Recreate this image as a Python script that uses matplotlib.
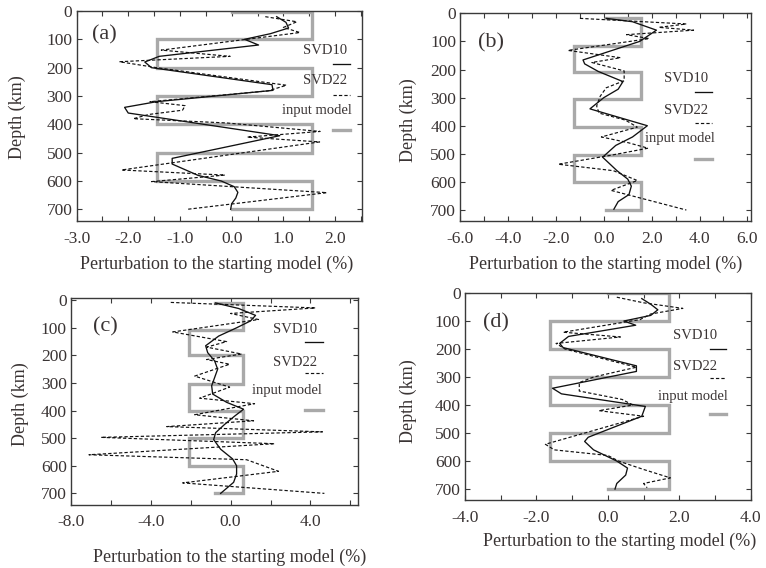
import matplotlib
matplotlib.use("Agg")
import matplotlib.pyplot as plt
from matplotlib.ticker import MultipleLocator, FormatStrFormatter

plt.rcParams['font.family'] = ['Liberation Serif', 'DejaVu Serif']
plt.rcParams['axes.unicode_minus'] = False

TEXT = '#3a3434'
SPINE = '#3a3a3a'
GRAY = '#a9a9a9'

# ---------------- data ----------------
panel_labels = ['(a)', '(b)', '(c)', '(d)']
legend_names = ['SVD10', 'SVD22', 'input model']
xlabel_text = 'Perturbation to the starting model (%)'
ylabel_text = 'Depth (km)'
depth_ticks = [0, 100, 200, 300, 400, 500, 600, 700]

# panel (a)
a_svd10_depth = [20, 40, 60, 80, 100, 120, 160, 180, 200, 260, 280, 320, 340, 360, 440,
                 520, 540, 580, 600, 620, 640, 660, 680, 700]
a_svd10_value = [0.87, 1.05, 1.10, 0.75, 0.25, 0.52, -1.40, -1.68, -1.55, 0.78, 0.80, -1.45,
                 -2.07, -2.0, 0.93, -1.15, -1.15, -0.65, -0.2, 0.05, 0.12, 0.08, 0.0, -0.02]
a_svd22_depth = [20, 38, 58, 76, 138, 160, 179, 200, 262, 282, 320, 334, 350, 365, 380, 395,
                 425, 445, 462, 561, 579, 602, 641, 700]
a_svd22_value = [0.65, 1.26, 1.0, 1.32, -1.36, -0.03, -2.17, -1.45, 1.06, 0.7, -1.58, -0.9,
                 -0.95, -1.6, -1.9, -0.1, 1.71, 0.3, 1.7, -2.13, -0.13, -1.55, 1.84, -0.87]
a_input_bounds = [3, 100, 200, 300, 400, 500, 600, 700]
a_input_high, a_input_low, a_input_start = 1.55, -1.45, 0.0

# panel (b)
b_svd10_depth = [18, 30, 60, 100, 166, 180, 207, 243, 270, 300, 340, 400, 440, 470, 512,
                 560, 590, 615, 645, 670, 697]
b_svd10_value = [0.1, 1.2, 2.2, 1.5, -0.87, -0.8, -0.23, 0.8, 0.6, 0.0, -0.58, 1.82, 1.2,
                 0.5, -0.05, 0.55, 1.0, 1.15, 1.05, 0.6, 0.42]
b_svd22_depth = [18, 38, 50, 60, 76, 90, 132, 158, 175, 205, 240, 265, 295, 330, 355, 380,
                 405, 440, 460, 480, 505, 537, 560, 595, 630, 700]
b_svd22_value = [-1.0, 3.45, 2.3, 3.75, 0.95, 1.9, -1.5, 0.7, -0.5, 0.85, 0.85, 0.1, -0.15,
                 -0.3, -0.2, 0.9, 1.4, -0.1, 1.0, 1.85, 0.3, -1.9, 0.4, 1.4, 0.3, 3.45]
b_input_bounds = [17, 115, 210, 305, 405, 505, 600, 700]
b_input_high, b_input_low, b_input_start = 1.55, -1.25, 0.1

# panel (c)
c_svd10_depth = [10, 30, 55, 75, 100, 130, 165, 190, 220, 250, 280, 310, 340, 370, 395,
                 420, 450, 480, 505, 540, 575, 600, 630, 660, 700]
c_svd10_value = [-0.75, 0.4, 1.25, 1.0, 0.3, -0.6, -1.25, -1.15, -0.8, -0.65, -0.8, -0.95,
                 -0.9, -0.2, 0.65, 0.2, -0.3, -0.75, -0.85, -0.5, 0.1, 0.3, 0.3, 0.15, -0.5]
c_svd22_depth = [8, 28, 48, 70, 115, 150, 170, 195, 215, 232, 275, 315, 355, 375, 415, 437,
                 458, 477, 497, 520, 560, 578, 620, 662, 700]
c_svd22_value = [-3.0, 4.25, 0.0, 1.4, -2.9, -0.2, -1.2, 0.55, -1.2, -0.05, -1.8, -0.05,
                 -1.55, 1.2, -1.8, 1.15, -3.2, 4.6, -6.5, 2.2, -7.1, 0.8, 2.4, -2.4, 4.7]
c_input_bounds = [10, 107, 200, 305, 400, 500, 600, 700]
c_input_high, c_input_low, c_input_start = 0.62, -2.1, -0.8

# panel (d)
d_svd10_depth = [20, 40, 60, 80, 100, 115, 155, 180, 195, 260, 280, 340, 360, 405, 440,
                 515, 530, 560, 600, 625, 650, 680, 700]
d_svd10_value = [0.95, 1.2, 1.4, 1.2, 0.45, 0.78, -1.1, -1.35, -1.25, 0.8, 0.8, -1.55,
                 -1.3, 1.05, 0.95, -0.55, -0.65, -0.4, 0.25, 0.55, 0.5, 0.25, 0.2]
d_svd22_depth = [15, 35, 55, 75, 95, 140, 157, 180, 200, 265, 300, 320, 350, 380, 400, 420,
                 440, 480, 540, 560, 580, 600, 630, 660, 680, 695]
d_svd22_value = [0.25, 1.0, 2.1, 1.2, 0.9, -1.25, 0.35, -1.45, -1.2, 0.8, -0.4, -0.8, -0.8,
                 0.4, 0.7, -0.25, 1.0, -0.1, -1.75, -1.5, 0.0, 0.3, 1.0, 1.75, 1.0, 1.1]
d_input_bounds = [0, 100, 200, 300, 400, 500, 600, 700]
d_input_high, d_input_low, d_input_start = 1.7, -1.62, 0.0

# x-axis settings per panel: (xmin, xmax, label step, minor step)
a_xaxis = (-3.0, 2.52, 1.0, 0.5)
b_xaxis = (-6.0, 6.14, 2.0, 1.0)
c_xaxis = (-8.0, 6.4, 4.0, 2.0)
d_xaxis = (-4.0, 4.0, 2.0, 1.0)
a_ylim = (741, 0)
b_ylim = (739, 0)
c_ylim = (741, -8)
d_ylim = (739, 0)

# ---------------- layout (pixels) ----------------
W, H = 766, 568
fig = plt.figure(figsize=(W / 100, H / 100), dpi=100)


def px_axes(left, right, top, bottom):
    return fig.add_axes([left / W, 1 - bottom / H, (right - left) / W, (bottom - top) / H])


def input_path(bounds, hi, lo, start):
    xs = [start]
    ys = [bounds[0]]
    for i in range(len(bounds) - 1):
        lev = hi if i % 2 == 0 else lo
        xs += [lev, lev]
        ys += [bounds[i], bounds[i + 1]]
    xs.append(start)
    ys.append(bounds[-1])
    return xs, ys


panels = [
    dict(box=(76.5, 362, 11, 221), xaxis=a_xaxis, ylim=a_ylim,
         s10=(a_svd10_depth, a_svd10_value), s22=(a_svd22_depth, a_svd22_value),
         inp=(a_input_bounds, a_input_high, a_input_low, a_input_start),
         lab=(0.098, 0.885), leg=(0.87, 0.842, 0.898, 0.958),
         legy=(0.81, 0.749, 0.668, 0.602, 0.526, 0.431),
         ylab=(17, 117), xlab=(217, 264)),
    dict(box=(460.3, 750.7, 13.3, 221), xaxis=b_xaxis, ylim=b_ylim,
         s10=(b_svd10_depth, b_svd10_value), s22=(b_svd22_depth, b_svd22_value),
         inp=(b_input_bounds, b_input_high, b_input_low, b_input_start),
         lab=(0.107, 0.86), leg=(0.778, 0.755, 0.807, 0.868),
         legy=(0.687, 0.623, 0.534, 0.47, 0.398, 0.297),
         ylab=(408, 120), xlab=(606, 264)),
    dict(box=(71, 358.3, 298, 504.7), xaxis=c_xaxis, ylim=c_ylim,
         s10=(c_svd10_depth, c_svd10_value), s22=(c_svd22_depth, c_svd22_value),
         inp=(c_input_bounds, c_input_high, c_input_low, c_input_start),
         lab=(0.118, 0.862), leg=(0.78, 0.751, 0.815, 0.878),
         legy=(0.85, 0.786, 0.689, 0.636, 0.552, 0.458),
         ylab=(20, 404), xlab=(230, 557)),
    dict(box=(465, 750.7, 293, 500), xaxis=d_xaxis, ylim=d_ylim,
         s10=(d_svd10_depth, d_svd10_value), s22=(d_svd22_depth, d_svd22_value),
         inp=(d_input_bounds, d_input_high, d_input_low, d_input_start),
         lab=(0.11, 0.855), leg=(0.804, 0.798, 0.857, 0.915),
         legy=(0.795, 0.731, 0.645, 0.588, 0.502, 0.416),
         ylab=(408, 401), xlab=(620, 541)),
]

for p, plab in zip(panels, panel_labels):
    ax = px_axes(*p['box'])
    bx, hi, lo, st = p['inp']
    ix, iy = input_path(bx, hi, lo, st)
    ax.plot(ix, iy, color=GRAY, lw=2.4, solid_joinstyle='miter', zorder=2)
    ax.plot(p['s22'][1], p['s22'][0], color='#111111', lw=0.85,
            linestyle=(0, (2.8, 1.8)), zorder=3)
    ax.plot(p['s10'][1], p['s10'][0], color='#111111', lw=0.95, zorder=4)

    xmin, xmax, step, minor = p['xaxis']
    ax.set_xlim(xmin, xmax)
    ax.set_ylim(*p['ylim'])
    ax.xaxis.set_major_locator(MultipleLocator(step))
    ax.xaxis.set_minor_locator(MultipleLocator(minor))
    ax.xaxis.set_major_formatter(FormatStrFormatter('%.1f'))
    ax.set_yticks(depth_ticks)
    ax.tick_params(which='both', direction='in', top=True, right=True,
                   length=3.5, width=0.8, color=SPINE, labelcolor=TEXT,
                   labelsize=12.5)
    ax.tick_params(axis='x', which='both', pad=7)
    ax.tick_params(axis='y', which='both', pad=3)
    for sp in ax.spines.values():
        sp.set_color(SPINE)
        sp.set_linewidth(1.0)

    ax.text(p['lab'][0], p['lab'][1], plab, transform=ax.transAxes, fontsize=16,
            color=TEXT, ha='center', va='center')

    tx, tx2, lx0, lx1 = p['leg']
    ly = p['legy']
    ax.text(tx, ly[0], legend_names[0], transform=ax.transAxes, fontsize=10.5,
            color=TEXT, ha='center', va='center')
    ax.plot([lx0, lx1], [ly[1], ly[1]], transform=ax.transAxes, color='#111111', lw=0.95)
    ax.text(tx, ly[2], legend_names[1], transform=ax.transAxes, fontsize=10.5,
            color=TEXT, ha='center', va='center')
    ax.plot([lx0, lx1], [ly[3], ly[3]], transform=ax.transAxes, color='#111111', lw=0.85,
            linestyle=(0, (2.8, 1.8)))
    ax.text(tx2, ly[4], legend_names[2], transform=ax.transAxes, fontsize=10.5,
            color=TEXT, ha='center', va='center')
    ax.plot([lx0, lx1], [ly[5], ly[5]], transform=ax.transAxes, color=GRAY, lw=2.4)

    fig.text(p['ylab'][0] / W, 1 - p['ylab'][1] / H, ylabel_text, rotation=90,
             fontsize=13, color=TEXT, ha='center', va='center')
    fig.text(p['xlab'][0] / W, 1 - p['xlab'][1] / H, xlabel_text,
             fontsize=13, color=TEXT, ha='center', va='center')

fig.savefig('out.png', dpi=100)
